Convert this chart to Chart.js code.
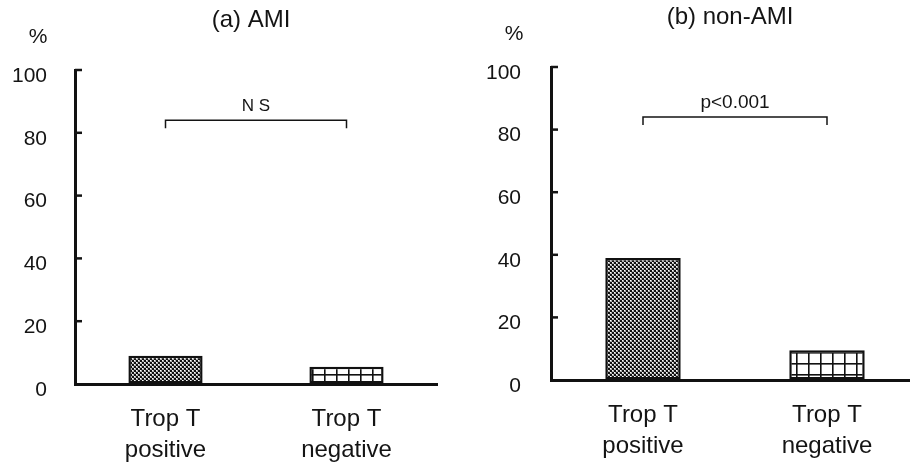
<!DOCTYPE html>
<html>
<head>
<meta charset="utf-8">
<script src="https://cdn.jsdelivr.net/npm/chart.js@4/dist/chart.umd.min.js"></script>
<style>
  html, body { margin: 0; padding: 0; background: #fff; overflow: hidden; }
  body { width: 910px; height: 466px; position: relative; }
  #c_ami { position: absolute; left: 0; top: 0; }
  #c_nonami { position: absolute; left: 460px; top: 0; }
</style>
</head>
<body>
<canvas id="c_ami" width="455" height="466"></canvas>
<canvas id="c_nonami" width="470" height="466"></canvas>
<script>
// data (percent)
var categories = [["Trop T", "positive"], ["Trop T", "negative"]];
var ami_values = [9, 5.5];
var non_ami_values = [39, 9.5];
var panel_titles = ["(a) AMI", "(b) non-AMI"];
var sig_labels = ["N S", "p<0.001"];
var y_min = 0;
var y_max = 100;
var y_step = 20;
var bracket_level = 84;

var FONT = "'Liberation Sans', Arial, Helvetica, sans-serif";
var INK = '#141414';

function makeChecker() {
    var c = document.createElement('canvas');
    c.width = 4; c.height = 4;
    var g = c.getContext('2d');
    g.fillStyle = '#b0b0b0';
    g.fillRect(0, 0, 4, 4);
    g.fillStyle = '#111111';
    g.fillRect(0, 0, 2, 2);
    g.fillRect(2, 2, 2, 2);
    g.fillStyle = '#ffffff';
    g.fillRect(2, 0, 1, 1);
    g.fillRect(0, 2, 1, 1);
    return g.createPattern(c, 'repeat');
}

function makeGrid() {
    var c = document.createElement('canvas');
    c.width = 12; c.height = 11;
    var g = c.getContext('2d');
    g.fillStyle = '#ffffff';
    g.fillRect(0, 0, 12, 11);
    g.fillStyle = '#111111';
    g.fillRect(0, 0, 1.6, 11);
    g.fillRect(0, 0, 12, 1.6);
    return g.createPattern(c, 'repeat');
}

// title, % sign, inward ticks and significance bracket
var panelDecor = {
    id: 'panelDecor',
    afterDraw: function (chart, args, opts) {
        var ctx = chart.ctx;
        var area = chart.chartArea;
        var xs = chart.scales.x;
        var ys = chart.scales.y;
        ctx.save();
        ctx.fillStyle = INK;
        ctx.strokeStyle = INK;
        ctx.textAlign = 'center';
        ctx.textBaseline = 'middle';

        ctx.font = '24px ' + FONT;
        ctx.fillText(opts.title, (area.left + area.right) / 2 - 5, area.top - 50);

        ctx.font = '21px ' + FONT;
        ctx.fillText('%', area.left - 37, area.top - 33);

        // inward tick marks on the y axis
        ctx.lineWidth = 2.5;
        for (var v = y_min + y_step; v <= y_max; v += y_step) {
            var py = ys.getPixelForValue(v);
            ctx.beginPath();
            ctx.moveTo(area.left, py);
            ctx.lineTo(area.left + 7, py);
            ctx.stroke();
        }

        // bracket between the two bars
        var x1 = xs.getPixelForValue(0);
        var x2 = xs.getPixelForValue(1);
        var by = ys.getPixelForValue(bracket_level);
        ctx.lineWidth = 1.5;
        ctx.beginPath();
        ctx.moveTo(x1, by + 8);
        ctx.lineTo(x1, by);
        ctx.lineTo(x2, by);
        ctx.lineTo(x2, by + 8);
        ctx.stroke();

        ctx.font = opts.sigSize + 'px ' + FONT;
        ctx.fillText(opts.sig, (x1 + x2) / 2, by - 14);
        ctx.restore();
    }
};

function makePanel(canvas_id, values, title, sig, sig_size, geo) {
    var ctx = document.getElementById(canvas_id);
    return new Chart(ctx, {
        type: 'bar',
        data: {
            labels: categories,
            datasets: [{
                data: values,
                backgroundColor: [makeChecker(), makeGrid()],
                borderColor: '#111111',
                borderWidth: 2.5,
                borderSkipped: false,
                barPercentage: 0.41,
                categoryPercentage: 1.0
            }]
        },
        options: {
            responsive: false,
            animation: false,
            devicePixelRatio: 1,
            layout: {
                padding: { left: 0, top: geo.top, right: geo.right, bottom: 0 }
            },
            plugins: {
                legend: { display: false },
                tooltip: { enabled: false },
                title: { display: false },
                panelDecor: { title: title, sig: sig, sigSize: sig_size }
            },
            scales: {
                x: {
                    grid: { display: true, drawOnChartArea: false, drawTicks: false },
                    border: { display: true, color: '#111111', width: 3 },
                    ticks: {
                        color: INK,
                        padding: 20,
                        maxRotation: 0,
                        font: { family: FONT, size: 24, lineHeight: 1.28 }
                    },
                    afterFit: function (s) { s.height = geo.xh; }
                },
                y: {
                    min: y_min,
                    max: y_max,
                    grid: { display: true, drawOnChartArea: false, drawTicks: false },
                    border: { display: true, color: '#111111', width: 3 },
                    ticks: {
                        stepSize: y_step,
                        color: INK,
                        padding: geo.tpad,
                        labelOffset: 6,
                        font: { family: FONT, size: 21 }
                    },
                    afterFit: function (s) { s.width = geo.yw; }
                }
            }
        },
        plugins: [panelDecor]
    });
}

makePanel('c_ami', ami_values, panel_titles[0], sig_labels[0], 17,
    { top: 70, right: 18, xh: 82, yw: 75, tpad: 28 });
makePanel('c_nonami', non_ami_values, panel_titles[1], sig_labels[1], 19,
    { top: 67, right: 11, xh: 86, yw: 91, tpad: 30 });
</script>
</body>
</html>
